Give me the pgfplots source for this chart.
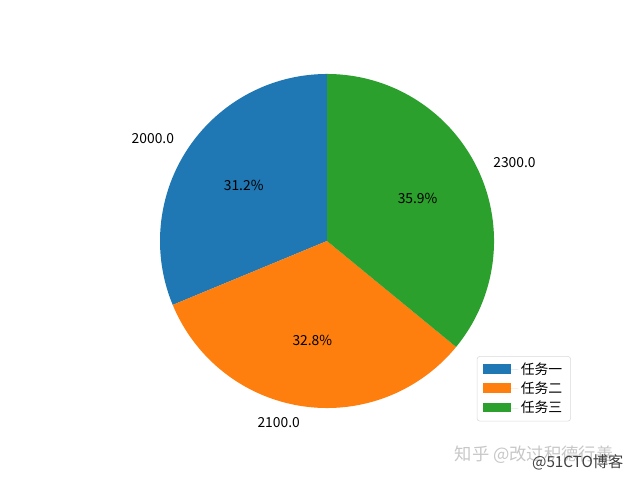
\documentclass[border=0pt]{standalone}
\usepackage{fontspec}
\setmainfont{Noto Sans CJK SC}
\usepackage{pgfplots}
\usepackage{pgfplotstable}
\pgfplotsset{compat=1.18}

\definecolor{c1}{HTML}{1F77B4}
\definecolor{c2}{HTML}{FF7F0E}
\definecolor{c3}{HTML}{2CA02C}

\pgfplotstableread{
value
2000
2100
2300
}\piedata

\begin{document}
\begin{tikzpicture}[font=\fontsize{10}{12}\selectfont]
\pgfplotstablegetelem{0}{value}\of\piedata \let\va\pgfplotsretval
\pgfplotstablegetelem{1}{value}\of\piedata \let\vb\pgfplotsretval
\pgfplotstablegetelem{2}{value}\of\piedata \let\vc\pgfplotsretval
\pgfmathsetmacro{\tot}{\va+\vb+\vc}
\pgfmathsetmacro{\aA}{90}
\pgfmathsetmacro{\aB}{\aA+360*(\va/\tot)}
\pgfmathsetmacro{\aC}{\aB+360*(\vb/\tot)}
\pgfmathsetmacro{\aD}{\aC+360*(\vc/\tot)}
% label positions (mid angles)
\pgfmathsetmacro{\mA}{(\aA+\aB)/2}
\pgfmathsetmacro{\mB}{(\aB+\aC)/2}
\pgfmathsetmacro{\mC}{(\aC+\aD)/2}
\begin{axis}[
    width=6.4in, height=4.8in, scale only axis,
    hide axis, clip=false,
    xmin=-1.958, xmax=1.874, ymin=-1.431, ymax=1.443,
    legend style={at={(rel axis cs:0.745,0.258)}, anchor=north west,
        draw=black!15, rounded corners=2pt, fill=white,
        font=\fontsize{10}{12}\selectfont, row sep=0pt,
        inner xsep=4pt, inner ysep=2.5pt},
    legend cell align=left,
    legend image code/.code={
        \fill[#1, sharp corners] (0.02cm,-0.11cm) rectangle (0.73cm,0.14cm);
        \path (0,0) -- (0.9cm,0);},
]
\addplot[fill=c1, draw=none, domain=\aA:\aB, samples=120] ({cos(x)},{sin(x)}) -- (axis cs:0,0) -- cycle;
\addplot[fill=c2, draw=none, domain=\aB:\aC, samples=120] ({cos(x)},{sin(x)}) -- (axis cs:0,0) -- cycle;
\addplot[fill=c3, draw=none, domain=\aC:\aD, samples=120] ({cos(x)},{sin(x)}) -- (axis cs:0,0) -- cycle;
\legend{任务一, 任务二, 任务三}

\node at (axis cs:{0.6*cos(\mA)},{0.6*sin(\mA)}) {31.2\%};
\node at (axis cs:{0.6*cos(\mB)},{0.6*sin(\mB)}) {32.8\%};
\node at (axis cs:{0.6*cos(\mC)},{0.6*sin(\mC)}) {35.9\%};

\node[anchor=east, inner sep=0pt] at (axis cs:{1.1*cos(\mA)},{1.1*sin(\mA)}) {2000.0};
\node[anchor=east, inner sep=0pt] at (axis cs:{1.1*cos(\mB)},{1.1*sin(\mB)}) {2100.0};
\node[anchor=west, inner sep=0pt] at (axis cs:{1.1*cos(\mC)},{1.1*sin(\mC)}) {2300.0};

% watermark
\node[anchor=west, text=black!22, font=\fontsize{12.5}{14}\selectfont] at (rel axis cs:0.703,0.052) {知乎 @改过积德行善};
\node[anchor=west, text=black!75, font=\fontsize{11}{13}\selectfont, inner sep=0pt] at (rel axis cs:0.831,0.037) {@51CTO博客};

\path (rel axis cs:0,0) rectangle (rel axis cs:1,1);
\end{axis}
\end{tikzpicture}
\end{document}
